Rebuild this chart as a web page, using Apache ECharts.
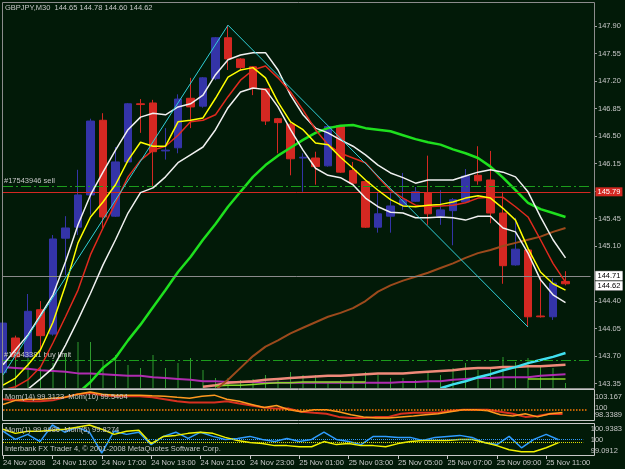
<!DOCTYPE html>
<html><head><meta charset="utf-8">
<script src="https://cdn.jsdelivr.net/npm/echarts@6/dist/echarts.min.js"></script>
<style>html,body{margin:0;padding:0;background:#021a08}#c{width:625px;height:469px}</style>
</head><body><div id="c"></div><script>
// ---- data ----
const categories = ['24 Nov 13:00','24 Nov 13:30','24 Nov 14:00','24 Nov 14:30','24 Nov 15:00','24 Nov 15:30','24 Nov 16:00','24 Nov 16:30','24 Nov 17:00','24 Nov 17:30','24 Nov 18:00','24 Nov 18:30','24 Nov 19:00','24 Nov 19:30','24 Nov 20:00','24 Nov 20:30','24 Nov 21:00','24 Nov 21:30','24 Nov 22:00','24 Nov 22:30','24 Nov 23:00','24 Nov 23:30','25 Nov 00:00','25 Nov 00:30','25 Nov 01:00','25 Nov 01:30','25 Nov 02:00','25 Nov 02:30','25 Nov 03:00','25 Nov 03:30','25 Nov 04:00','25 Nov 04:30','25 Nov 05:00','25 Nov 05:30','25 Nov 06:00','25 Nov 06:30','25 Nov 07:00','25 Nov 07:30','25 Nov 08:00','25 Nov 08:30','25 Nov 09:00','25 Nov 09:30','25 Nov 10:00','25 Nov 10:30','25 Nov 11:00','25 Nov 11:30','25 Nov 12:00','25 Nov 12:30'];
const tickLabels = ['24 Nov 2008','24 Nov 15:00','24 Nov 17:00','24 Nov 19:00','24 Nov 21:00','24 Nov 23:00','25 Nov 01:00','25 Nov 03:00','25 Nov 05:00','25 Nov 07:00','25 Nov 09:00','25 Nov 11:00'];
const priceTicks = [143.35,143.70,144.05,144.40,144.75,145.10,145.45,145.80,146.15,146.50,146.85,147.20,147.55,147.90];
const mom1Min = 98.3389, mom1Mid = 100, mom1Max = 103.167;
const mom2Min = 99.0912, mom2Mid = 100, mom2Max = 100.9383;

const open  = [143.49,143.93,143.69,144.29,143.98,145.20,145.34,145.75,146.70,145.48,146.17,146.91,146.92,146.31,146.35,146.98,146.88,147.23,147.75,147.48,147.38,147.10,146.72,146.65,146.22,146.22,146.12,146.63,146.06,145.92,145.34,145.48,145.62,145.67,145.78,145.48,145.55,145.66,146.00,145.94,145.52,144.86,145.05,144.21,144.20,144.65];
const high  = [144.16,143.96,144.49,144.40,145.24,145.48,146.07,146.72,146.79,146.36,146.92,146.97,146.96,146.60,147.03,147.24,147.25,147.76,147.91,147.49,147.39,147.11,146.73,146.67,146.28,146.30,146.63,146.64,146.17,145.93,145.79,145.79,146.03,145.85,146.25,145.81,145.71,146.08,146.37,146.31,145.79,145.46,145.06,144.72,144.69,144.78];
const low   = [143.46,143.65,143.68,143.75,143.96,144.73,145.24,145.50,145.33,145.47,146.16,146.54,145.84,146.20,146.28,146.60,146.86,147.21,147.34,147.33,147.02,146.64,146.28,146.00,145.79,145.88,146.11,146.03,145.88,145.33,145.27,145.27,145.56,145.66,145.37,145.37,145.11,145.65,145.88,145.39,144.62,144.85,144.07,144.19,144.16,144.60];
const close = [144.12,143.69,144.27,143.96,145.19,145.33,145.75,146.69,145.47,146.17,146.91,146.90,146.30,146.32,146.97,146.87,147.24,147.75,147.48,147.37,147.11,146.69,146.67,146.21,146.23,146.11,146.62,146.04,145.90,145.34,145.51,145.61,145.69,145.79,145.51,145.56,145.69,145.99,145.93,145.52,144.85,145.06,144.20,144.20,144.63,144.62];
const volume = [300,280,300,220,250,350,460,460,280,330,230,200,330,200,250,300,180,100,100,80,90,130,100,160,130,130,60,80,110,160,130,100,100,80,160,130,200,250,180,200,310,260,300,230,200,50];

const yellowMA = [143.33,143.42,143.59,143.78,144.13,144.60,145.14,145.47,145.66,145.88,146.19,146.42,146.37,146.37,146.68,146.70,146.73,146.98,147.25,147.34,147.37,147.24,146.93,146.68,146.58,146.41,146.39,146.23,146.09,145.94,145.81,145.69,145.61,145.60,145.62,145.63,145.66,145.71,145.74,145.71,145.58,145.43,145.07,144.77,144.62,144.54];
const redMA = [143.27,143.31,143.40,143.56,143.87,144.20,144.54,144.99,145.33,145.65,145.98,146.19,146.32,146.37,146.51,146.68,146.70,146.77,147.00,147.21,147.34,147.39,147.24,147.06,146.83,146.58,146.39,146.28,146.22,146.16,145.98,145.81,145.71,145.62,145.60,145.61,145.62,145.65,145.71,145.72,145.72,145.60,145.47,145.18,144.88,144.64];
const upperBand = [143.59,143.78,143.97,144.22,144.48,144.90,145.37,145.75,146.04,146.32,146.58,146.74,146.79,146.77,146.87,146.91,147.02,147.28,147.47,147.53,147.56,147.56,147.34,147.02,146.77,146.60,146.54,146.45,146.37,146.26,146.13,146.03,145.97,145.90,145.94,145.94,145.94,145.99,146.04,146.07,146.04,145.98,145.79,145.47,145.18,144.95];
const lowerBand = [143.12,143.19,143.28,143.41,143.55,143.84,144.16,144.50,144.86,145.18,145.52,145.78,145.84,145.98,146.16,146.26,146.36,146.58,146.86,147.06,147.11,147.09,146.87,146.58,146.32,146.09,146.00,145.97,145.88,145.71,145.60,145.53,145.52,145.46,145.46,145.47,145.46,145.43,145.48,145.48,145.33,145.28,145.01,144.67,144.48,144.38];
const greenMA = [142.25,142.44,142.63,142.82,142.99,143.12,143.23,143.37,143.55,143.68,143.90,144.10,144.32,144.54,144.77,144.96,145.18,145.38,145.60,145.79,145.98,146.13,146.25,146.35,146.45,146.54,146.60,146.63,146.64,146.60,146.58,146.56,146.51,146.46,146.42,146.39,146.33,146.28,146.22,146.11,145.97,145.81,145.65,145.57,145.52,145.47];
const brownMA = [null,null,null,null,null,null,null,null,null,null,null,null,null,null,142.89,143.01,143.14,143.27,143.40,143.55,143.70,143.82,143.90,143.99,144.06,144.13,144.20,144.25,144.31,144.40,144.52,144.60,144.66,144.71,144.76,144.82,144.88,144.95,145.01,145.05,145.10,145.14,145.18,145.22,145.28,145.33];
const zigzag = [143.46,null,null,null,null,null,null,null,null,null,null,null,null,null,null,null,null,null,147.91,null,null,null,null,null,null,null,null,null,null,null,null,null,null,null,null,null,null,null,null,null,null,null,144.07,null,null,null];
const magentaLine = [143.56,143.55,143.54,143.52,143.51,143.50,143.48,143.48,143.47,143.46,143.45,143.45,143.43,143.42,143.41,143.40,143.38,143.38,143.37,143.37,143.37,143.36,143.36,143.36,143.36,143.36,143.36,143.36,143.36,143.36,143.36,143.36,143.37,143.37,143.38,143.38,143.40,143.41,143.42,143.42,143.43,143.43,143.43,143.45,143.46,143.47];
const salmonLine = [null,null,null,null,null,null,null,null,null,null,null,null,null,null,null,null,143.31,143.33,143.36,143.37,143.38,143.40,143.41,143.42,143.43,143.44,143.45,143.45,143.46,143.47,143.48,143.48,143.48,143.49,143.50,143.51,143.52,143.54,143.55,143.55,143.56,143.56,143.57,143.57,143.58,143.59];
const limeLine = [null,null,null,null,null,null,null,null,null,null,null,null,null,null,null,null,null,143.32,143.33,143.33,143.34,143.35,143.36,143.36,143.37,143.37,143.37,143.37,143.37,143.37,null,null,null,null,null,null,null,null,null,null,null,null,143.41,143.41,143.41,143.41];
const cyanLine = [null,null,null,null,null,null,null,null,null,null,null,null,null,null,null,null,null,null,null,null,null,null,null,null,null,null,null,null,null,null,null,null,null,null,null,143.29,143.34,143.38,143.43,143.47,143.52,143.56,143.61,143.65,143.69,143.74];

const mom14 = [101.67,101.50,101.34,101.34,101.50,102.00,102.50,102.67,102.34,102.17,102.17,102.17,102.00,101.67,101.34,101.17,101.17,101.17,101.34,101.00,100.67,100.34,100.17,100.17,99.67,99.50,99.34,98.84,98.67,98.67,98.84,98.84,99.34,99.50,99.50,99.50,99.84,100.00,100.00,100.00,99.67,99.34,98.84,99.00,99.34,99.3123];
const mom10 = [100.84,101.50,101.67,101.67,101.84,102.00,102.50,102.83,102.50,102.34,102.34,102.34,102.25,102.17,102.00,101.84,102.17,102.34,101.67,101.34,100.84,100.34,100.67,100.00,99.67,100.00,100.00,99.67,99.17,98.84,98.67,98.67,98.84,99.00,99.17,99.34,99.67,100.00,100.00,99.84,99.17,99.00,99.34,98.84,99.34,99.5404];
const mom1 = [100.51,100.02,100.32,99.89,100.88,100.45,100.75,100.45,99.21,100.51,100.32,100.45,99.71,100.20,100.45,100.08,100.45,100.20,100.02,100.08,100.20,100.02,99.89,100.08,99.89,100.02,100.45,100.02,99.89,99.71,100.20,100.20,100.14,100.14,99.95,100.14,100.20,100.26,100.14,99.83,99.71,100.20,99.52,100.02,100.32,99.9986];
const mom5 = [100.63,100.38,100.51,100.51,100.57,100.63,100.75,100.88,100.63,100.32,100.51,100.57,99.77,100.20,100.26,100.38,100.45,100.38,100.14,99.95,99.83,99.77,99.65,99.65,99.58,99.58,99.89,99.71,99.77,99.65,99.65,99.58,99.77,99.89,99.95,99.95,99.95,100.02,100.02,99.83,99.65,99.40,99.28,99.28,99.52,99.8274];

const sellLevel = 145.86, buyLimitLevel = 143.65, redLevel = 145.79, askLevel = 144.71, bidLevel = 144.62;
const mom1Level = 100, mom2LevelA = 100, mom2LevelB = 99.86;

// ---- chart ----
const FONT = '"Liberation Sans", Arial, sans-serif';
const TXT = '#c8c8c8';
const FS = 7.5;
const ohlc = open.map((o, i) => [o, close[i], low[i], high[i]]);

function lineS(data, color, width, xi, yi, extra) {
  return Object.assign({ type: 'line', data, xAxisIndex: xi, yAxisIndex: yi, symbol: 'none', showSymbol: false,
    lineStyle: { color, width }, itemStyle: { color }, silent: true, z: 4 }, extra || {});
}
function rt(lh) { return { color: TXT, fontSize: FS, fontFamily: FONT, lineHeight: lh }; }
function boxLabel(text, fg, bg, border, off) {
  return { show: true, position: 'end', formatter: text, color: fg, backgroundColor: bg, opacity: 1,
    borderColor: border || 'transparent', borderWidth: border ? 0.5 : 0, padding: [1, 2, 0, 2], lineHeight: 8,
    fontSize: FS, fontFamily: FONT, distance: 5, offset: off || [0, 0] };
}

const xBase = { type: 'category', data: categories, boundaryGap: false,
  axisLine: { show: false }, axisTick: { show: false }, axisLabel: { show: false }, splitLine: { show: false } };

const chart = echarts.init(document.getElementById('c'), null, { renderer: 'canvas' });
chart.setOption({
  animation: false,
  backgroundColor: '#021a08',
  textStyle: { fontFamily: FONT },
  grid: [
    { left: 3, top: 3, width: 587.5, height: 385 },
    { left: 3, top: 390, width: 587.5, height: 30 },
    { left: 3, top: 424, width: 587.5, height: 31 }
  ],
  xAxis: [
    Object.assign({}, xBase, { gridIndex: 0 }),
    Object.assign({}, xBase, { gridIndex: 1 }),
    Object.assign({}, xBase, { gridIndex: 2,
      axisTick: { show: true, interval: i => i % 4 === 0, length: 4, lineStyle: { color: TXT } },
      axisLabel: { show: true, interval: i => i % 4 === 0, formatter: (v, i) => tickLabels[i / 4] || '',
        align: 'left', color: TXT, fontSize: FS, fontFamily: FONT, margin: 4 } })
  ],
  yAxis: [
    { gridIndex: 0, position: 'right', offset: 3.5, min: 143.294, max: 148.192, splitLine: { show: false },
      axisLine: { show: false },
      axisTick: { show: true, length: 3, customValues: priceTicks, lineStyle: { color: '#a0a0a0' } },
      axisLabel: { customValues: priceTicks, formatter: v => v.toFixed(2), color: TXT, fontSize: FS, fontFamily: FONT, margin: 4 } },
    { gridIndex: 0, min: 0, max: 3850, show: false },
    { gridIndex: 1, position: 'right', offset: 3.5, min: mom1Min, max: mom1Max, splitLine: { show: false },
      axisLine: { show: false }, axisTick: { show: false },
      axisLabel: { customValues: [mom1Mid], margin: 4,
        formatter: () => '{t|' + mom1Max + '}\n{m|' + mom1Mid + '}\n{b|' + mom1Min + '}\n{e| }',
        rich: { t: rt(16), m: rt(6), b: rt(8), e: rt(11.4) } } },
    { gridIndex: 2, position: 'right', offset: 3.5, min: mom2Min, max: mom2Max, splitLine: { show: false },
      axisLine: { show: false }, axisTick: { show: false },
      axisLabel: { customValues: [mom2Mid], margin: 4,
        formatter: () => '{t|' + mom2Max + '}\n{m|' + mom2Mid + '}\n{b|' + mom2Min + '}',
        rich: { t: rt(11), m: rt(11), b: rt(11) } } }
  ],
  series: [
    { type: 'bar', data: volume, xAxisIndex: 0, yAxisIndex: 1, barWidth: 1, silent: true, z: 1,
      itemStyle: { color: '#2e9a2e' } },
    lineS(magentaLine, '#b02cb0', 2, 0, 0, { z: 2 }),
    lineS(salmonLine, '#f08a7a', 2.5, 0, 0, { z: 2 }),
    lineS(limeLine, '#8ad82a', 1.5, 0, 0, { z: 2 }),
    lineS(cyanLine, '#40e0f0', 2.5, 0, 0, { z: 2,
      markLine: { symbol: ['none', 'none'], silent: true, animation: false,
        data: [{ yAxis: bidLevel, lineStyle: { color: 'rgba(0,0,0,0)', width: 0 },
                 label: boxLabel('144.62', '#000000', '#ffffff', '#606060', [0, 2]) }] } }),
    { type: 'candlestick', data: ohlc, xAxisIndex: 0, yAxisIndex: 0, barWidth: 8, silent: true, z: 3,
      itemStyle: { color: '#3434a8', color0: '#d42822', borderColor: '#3434a8', borderColor0: '#d42822', borderWidth: 1 },
      markLine: { symbol: ['none', 'none'], silent: true, animation: false, precision: 2,
        data: [
          { yAxis: sellLevel, lineStyle: { color: '#1c9c1c', type: [10, 3, 2, 3], width: 1 },
            label: { show: true, position: 'insideStartTop', formatter: '#17543946 sell', color: TXT, fontSize: FS, fontFamily: FONT, distance: 1 } },
          { yAxis: buyLimitLevel, lineStyle: { color: '#1c9c1c', type: [10, 3, 2, 3], width: 1 },
            label: { show: true, position: 'insideStartTop', formatter: '#17543381 buy limit', color: TXT, fontSize: FS, fontFamily: FONT, distance: 1 } },
          { yAxis: redLevel, lineStyle: { color: '#d42822', type: 'solid', width: 1 },
            label: boxLabel('145.79', '#ffffff', '#d42822', null) },
          { yAxis: askLevel, lineStyle: { color: '#8a8a8a', type: 'solid', width: 1 },
            label: boxLabel('144.71', '#000000', '#ffffff', '#606060', [0, -1]) }
        ] } },
    lineS(brownMA, '#9c4a1c', 2, 0, 0, { z: 4 }),
    lineS(greenMA, '#1ee01e', 2.5, 0, 0, { z: 4 }),
    lineS(lowerBand, '#f0f0f0', 1.5, 0, 0, { z: 5 }),
    lineS(upperBand, '#f0f0f0', 1.5, 0, 0, { z: 5 }),
    lineS(redMA, '#e02a1e', 1.5, 0, 0, { z: 5 }),
    lineS(yellowMA, '#ffff00', 1.5, 0, 0, { z: 5 }),
    lineS(zigzag, '#30d0d8', 1, 0, 0, { z: 6, connectNulls: true }),
    lineS(mom14, '#d83020', 2, 1, 2, {
      markLine: { symbol: ['none', 'none'], silent: true, label: { show: false },
        data: [{ yAxis: mom1Level, lineStyle: { color: '#ff7a00', type: 'dotted', width: 1.5 } }] } }),
    lineS(mom10, '#ff9a20', 1.5, 1, 2),
    lineS(mom1, '#2f9cff', 1.5, 2, 3, {
      markLine: { symbol: ['none', 'none'], silent: true, label: { show: false },
        data: [{ yAxis: mom2LevelA, lineStyle: { color: '#2f9cff', type: 'dotted', width: 1 } },
               { yAxis: mom2LevelB, lineStyle: { color: '#e0e000', type: 'dotted', width: 1 } }] } }),
    lineS(mom5, '#f0f000', 1.5, 2, 3)
  ],
  graphic: [
    { type: 'rect', z: 50, shape: { x: 2.5, y: 2.5, width: 592, height: 386 }, style: { fill: null, stroke: '#8c8c8c', lineWidth: 1 } },
    { type: 'rect', z: 50, shape: { x: 2.5, y: 389.5, width: 592, height: 31 }, style: { fill: null, stroke: '#c8c8c8', lineWidth: 1 } },
    { type: 'rect', z: 50, shape: { x: 2.5, y: 423.5, width: 592, height: 32 }, style: { fill: null, stroke: '#c8c8c8', lineWidth: 1 } },
    { type: 'text', z: 60, left: 5, top: 4, style: { text: 'GBPJPY,M30  144.65 144.78 144.60 144.62', fill: TXT, font: FS + 'px ' + FONT } },
    { type: 'text', z: 60, left: 5, top: 393, style: { text: 'Mom(14) 99.3123  Mom(10) 99.5404', fill: TXT, font: FS + 'px ' + FONT } },
    { type: 'text', z: 60, left: 5, top: 426, style: { text: 'Mom(1) 99.9986  Mom(5) 99.8274', fill: TXT, font: FS + 'px ' + FONT } },
    { type: 'text', z: 60, left: 5, top: 445, style: { text: 'Interbank FX Trader 4, \u00a9 2001-2008 MetaQuotes Software Corp.', fill: TXT, font: FS + 'px ' + FONT } }
  ]
});
</script></body></html>
